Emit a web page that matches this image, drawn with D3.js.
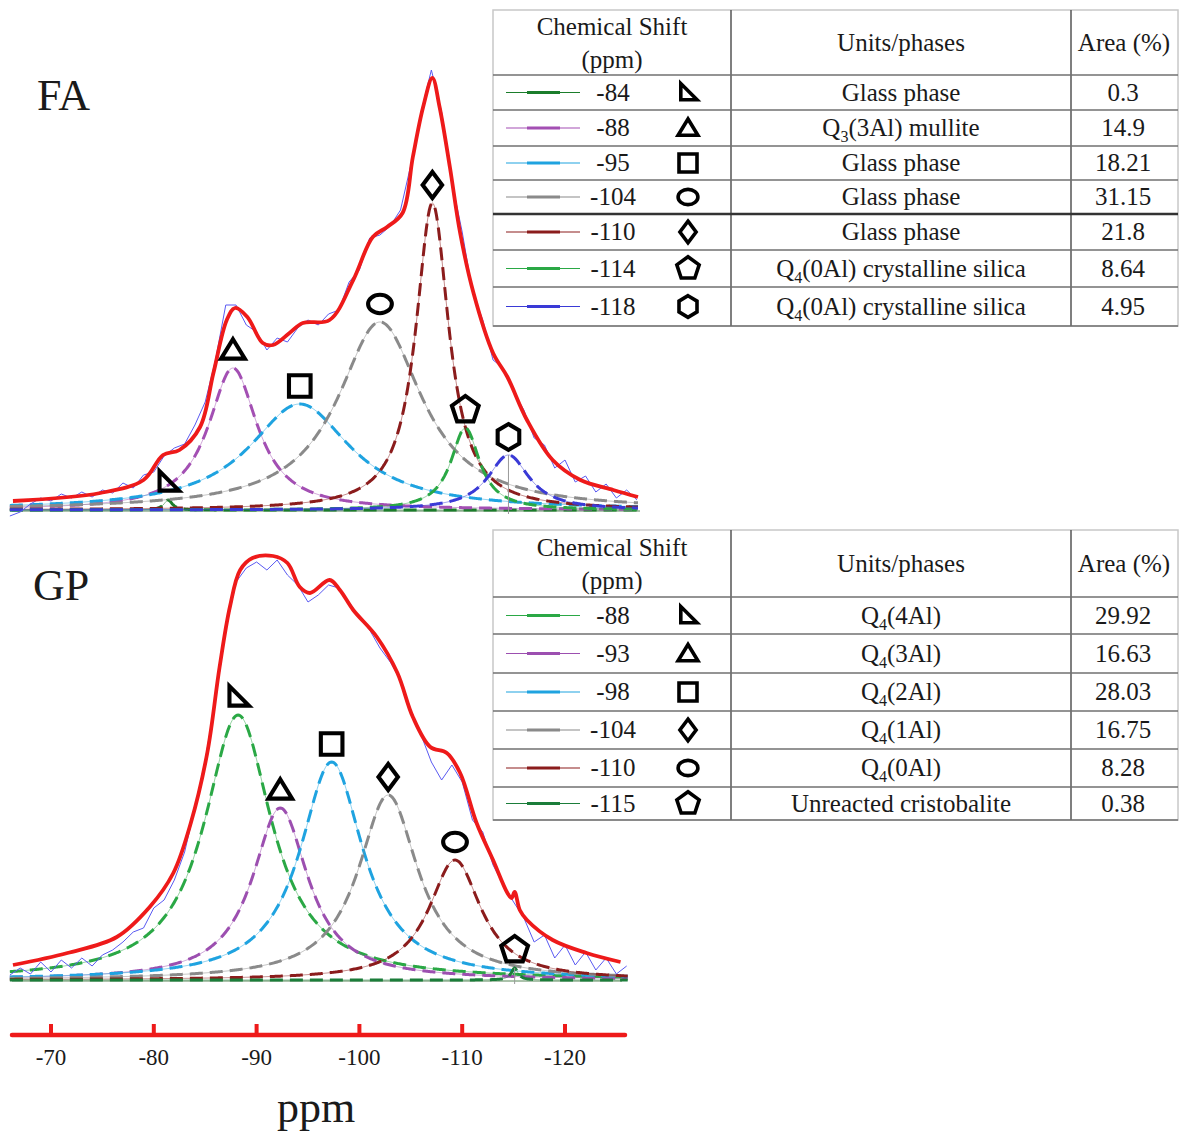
<!DOCTYPE html>
<html>
<head>
<meta charset="utf-8">
<script src="https://cdn.jsdelivr.net/npm/d3@7"></script>
<style>
body { margin: 0; background: #fff; }
text { font-family: "Liberation Serif", "DejaVu Serif", "Times New Roman", serif; fill: #1a1a1a; }
</style>
</head>
<body>
<div id="container"></div>
<script>
// width and height
var width = 1181;
var height = 1136;

// axis ticks (ppm)
var xTicks = [-70, -80, -90, -100, -110, -120];

// ---- FA sample ----
var faShift  = [-84, -88, -95, -104, -110, -114, -118];
var faSymbol = ["rtri", "tri", "square", "circle", "diamond", "pentagon", "hexagon"];
var faUnits  = ["Glass phase", "Q_3(3Al) mullite", "Glass phase", "Glass phase", "Glass phase",
                "Q_4(0Al) crystalline silica", "Q_4(0Al) crystalline silica"];
var faArea   = ["0.3", "14.9", "18.21", "31.15", "21.8", "8.64", "4.95"];
var faColor  = ["#1b7d2b", "#a34fb3", "#1fa3e0", "#8a8a8a", "#8b1c1c", "#2aa845", "#3a3ad6"];
// fitted components: peak position as plotted (ppm), height (a.u.), FWHM (ppm)
var faCenter = [-81.4, -87.7, -94.2, -102.0, -107.1, -110.3, -114.5];
var faHeight = [10, 142, 106, 188, 307, 82, 55];
var faWidth  = [1.0, 5.8, 12, 10, 3.9, 3.4, 4.9];
// total fit (red)
var faFitPpm = [-66.3, -74.8, -79.0, -80.9, -82.5, -84.5, -85.8, -87.1, -87.9, -89.1, -90.6, -91.6,
                -93.2, -94.5, -97.1, -99.4, -101.3, -102.7, -104.2, -105.2, -106.2, -107.1, -107.8,
                -108.8, -109.8, -111.1, -113.0, -114.4, -116.3, -118.8, -121.5, -124.7, -127.1];
var faFitInt = [9, 17, 30, 55, 60, 83, 137, 190, 202, 193, 167, 165,
                177, 187, 190, 230, 273, 283, 297, 353, 403, 432, 403,
                343, 277, 217, 157, 133, 90, 50, 30, 20, 13];
// experimental spectrum (blue), one value per ppm from -66 to -127
var faExp = [-6, -2, 6, 12, 9, 16, 12, 18, 13, 20, 17, 27, 22, 35, 38, 54, 62, 66, 85, 108,
             150, 205, 205, 185, 178, 160, 172, 168, 182, 190, 185, 196, 200, 228, 240, 272,
             275, 284, 300, 345, 398, 440, 398, 328, 278, 218, 190, 150, 142, 118, 100, 72,
             65, 42, 50, 28, 34, 18, 26, 12, 20, 10];

// ---- GP sample ----
var gpShift  = [-88, -93, -98, -104, -110, -115];
var gpSymbol = ["rtri", "tri", "square", "diamond", "circle", "pentagon"];
var gpUnits  = ["Q_4(4Al)", "Q_4(3Al)", "Q_4(2Al)", "Q_4(1Al)", "Q_4(0Al)", "Unreacted cristobalite"];
var gpArea   = ["29.92", "16.63", "28.03", "16.75", "8.28", "0.38"];
var gpColor  = ["#2aa845", "#9c4fb0", "#1fa3e0", "#8a8a8a", "#8b1c1c", "#1b7d3a"];
var gpCenter = [-88.2, -92.3, -97.3, -102.8, -109.3, -115.1];
var gpHeight = [265, 172, 218, 185, 120, 12];
var gpWidth  = [8.0, 6.6, 7.5, 7.1, 6.2, 0.8];
var gpFitPpm = [-66.3, -71.6, -76.4, -79.6, -81.9, -83.6, -85.2, -86.4, -87.4, -88.4, -89.6, -91.6,
                -93.0, -94.2, -95.2, -97.1, -98.1, -99.4, -101.7, -103.7, -105.2, -106.9, -108.5,
                -109.8, -111.4, -113.0, -114.4, -114.8, -115.1, -115.6, -116.3, -118.8, -122.1, -125.4];
var gpFitInt = [15, 27, 43, 73, 107, 157, 227, 313, 373, 410, 422, 424,
                417, 393, 387, 400, 390, 370, 343, 307, 263, 233, 227,
                207, 157, 120, 87, 82, 88, 70, 60, 40, 27, 18];
var gpExp = [5, 12, 6, 18, 8, 20, 12, 22, 14, 25, 30, 38, 48, 52, 72, 80, 100, 128, 172, 220,
             280, 350, 398, 412, 418, 410, 420, 405, 395, 378, 385, 395, 392, 378, 362, 350,
             332, 318, 300, 270, 245, 218, 200, 215, 198, 160, 148, 115, 95, 78, 62, 38,
             45, 22, 35, 15, 28, 10, 22, 6, 14];

var svg = d3.select("#container")
            .append("svg")
            .attr("width", width)
            .attr("height", height);

// shared ppm scale
var x = d3.scaleLinear().domain([-70, -120]).range([51, 565]);

var symbolPaths = {
  rtri: "M-8,-10L-8,8L10,8Z",
  tri: "M0,-10L11,8L-11,8Z",
  square: "M-10,-10H10V10H-10Z",
  circle: "M-11,0A11,8.5 0 1,0 11,0A11,8.5 0 1,0 -11,0Z",
  diamond: "M0,-12L9,0L0,12L-9,0Z",
  pentagon: "M0,-13L12.4,-4L7.6,10.5L-7.6,10.5L-12.4,-4Z",
  hexagon: "M0,-12L10,-6L10,6L0,12L-10,6L-10,-6Z"
};

function lorentz(c, h, w) {
  return function(p) { var t = (p - c) / (w / 2); return h / (1 + t * t); };
}

function drawPanel(p) {
  var y = d3.scaleLinear().domain([0, 100]).range([p.base, p.base - 100]);
  var g = svg.append("g");

  // baseline
  g.append("line")
   .attr("x1", 12).attr("x2", p.xEnd)
   .attr("y1", y(0) + 1).attr("y2", y(0) + 1)
   .attr("stroke", "#8fae8f").attr("stroke-width", 1.5);

  var grid = d3.range(-66, p.ppmEnd, -0.1);
  var line = d3.line().x(function(d) { return x(d[0]); }).y(function(d) { return y(d[1]); });

  p.center.forEach(function(c, i) {
    var f = lorentz(c, p.height[i], p.width[i]);
    var pts = grid.map(function(q) { return [q, f(q)]; });
    g.append("path").attr("d", line(pts))
     .attr("fill", "none").attr("stroke", p.color[i])
     .attr("stroke-opacity", 0.5).attr("stroke-width", 1);
    g.append("path").attr("d", line(pts))
     .attr("fill", "none").attr("stroke", p.color[i])
     .attr("stroke-width", 3).attr("stroke-dasharray", "13,7");
  });

  // drop line at the small crystalline peak
  g.append("line")
   .attr("x1", x(p.center[p.drop])).attr("x2", x(p.center[p.drop]))
   .attr("y1", y(p.height[p.drop])).attr("y2", y(0) + 4)
   .attr("stroke", "#999").attr("stroke-width", 1);

  // experimental
  var expPts = p.exp.map(function(v, i) { return [-66 - i, v]; });
  g.append("path").attr("d", line(expPts))
   .attr("fill", "none").attr("stroke", "#5a5af2").attr("stroke-width", 1);

  // fit
  var fitPts = p.fitPpm.map(function(q, i) { return [q, p.fitInt[i]]; });
  g.append("path").attr("d", line.curve(d3.curveCatmullRom)(fitPts))
   .attr("fill", "none").attr("stroke", "#ee1a1a").attr("stroke-width", 3.8)
   .attr("stroke-linejoin", "round");
  line.curve(d3.curveLinear);

  // markers above each component peak
  p.center.forEach(function(c, i) {
    g.append("path")
     .attr("d", symbolPaths[p.symbol[i]])
     .attr("transform", "translate(" + x(c) + "," + (y(p.height[i]) - 18) + ") scale(1.08)")
     .attr("fill", "none").attr("stroke", "#000").attr("stroke-width", 3.8)
     .attr("stroke-linejoin", "miter");
  });

  g.append("text").attr("x", p.labelX).attr("y", p.labelY)
   .style("font-size", "44px").text(p.label);
}

drawPanel({ base: 510, xEnd: 640, ppmEnd: -127.2, center: faCenter, height: faHeight, width: faWidth,
            color: faColor, symbol: faSymbol, fitPpm: faFitPpm, fitInt: faFitInt, exp: faExp,
            drop: 6, label: "FA", labelX: 37, labelY: 110 });
drawPanel({ base: 980, xEnd: 622, ppmEnd: -126.2, center: gpCenter, height: gpHeight, width: gpWidth,
            color: gpColor, symbol: gpSymbol, fitPpm: gpFitPpm, fitInt: gpFitInt, exp: gpExp,
            drop: 5, label: "GP", labelX: 33, labelY: 600 });

// bottom axis in red
var axisY = 1035;
svg.append("line").attr("x1", 12).attr("x2", 625).attr("y1", axisY).attr("y2", axisY)
   .attr("stroke", "#ee1a1a").attr("stroke-width", 4.5).attr("stroke-linecap", "round");
svg.selectAll(".tick").data(xTicks).enter().append("line")
   .attr("x1", function(d) { return x(d); }).attr("x2", function(d) { return x(d); })
   .attr("y1", axisY - 11).attr("y2", axisY)
   .attr("stroke", "#ee1a1a").attr("stroke-width", 4);
svg.selectAll(".ticklab").data(xTicks).enter().append("text")
   .attr("x", function(d) { return x(d); }).attr("y", axisY + 30)
   .attr("text-anchor", "middle").style("font-size", "23px")
   .text(function(d) { return d; });
svg.append("text").attr("x", 316).attr("y", 1122).attr("text-anchor", "middle")
   .style("font-size", "44px").text("ppm");

// tables
function unitsText(sel, s) {
  var m = s.match(/^(.*?)_(\d)(.*)$/);
  if (!m) { sel.text(s); return; }
  sel.append("tspan").text(m[1]);
  sel.append("tspan").attr("dy", 6).style("font-size", "16px").text(m[2]);
  sel.append("tspan").attr("dy", -6).text(m[3]);
}

function drawTable(t) {
  var g = svg.append("g");
  var cols = [493, 731, 1071, 1178];
  var b = t.rows;
  var top = b[0], bottom = b[b.length - 1];

  // grid
  g.append("rect").attr("x", cols[0]).attr("y", top).attr("width", cols[3] - cols[0])
   .attr("height", bottom - top).attr("fill", "none").attr("stroke", "#c8c8c8").attr("stroke-width", 1.5);
  [cols[1], cols[2]].forEach(function(cx) {
    g.append("line").attr("x1", cx).attr("x2", cx).attr("y1", top).attr("y2", bottom)
     .attr("stroke", "#555").attr("stroke-width", 1.5);
  });
  b.slice(1, -1).forEach(function(ry, i) {
    g.append("line").attr("x1", cols[0]).attr("x2", cols[3]).attr("y1", ry).attr("y2", ry)
     .attr("stroke", i === t.thick ? "#333" : "#707070")
     .attr("stroke-width", i === t.thick ? 2.6 : 1.6);
  });
  g.append("line").attr("x1", cols[0]).attr("x2", cols[3]).attr("y1", bottom).attr("y2", bottom)
   .attr("stroke", "#707070").attr("stroke-width", 1.6);

  // header
  var hm = (b[0] + b[1]) / 2;
  g.append("text").attr("x", 612).attr("y", hm - 8).attr("text-anchor", "middle")
   .style("font-size", "25px").text("Chemical Shift");
  g.append("text").attr("x", 612).attr("y", hm + 25).attr("text-anchor", "middle")
   .style("font-size", "25px").text("(ppm)");
  g.append("text").attr("x", 901).attr("y", hm + 8).attr("text-anchor", "middle")
   .style("font-size", "25px").text("Units/phases");
  g.append("text").attr("x", 1124).attr("y", hm + 8).attr("text-anchor", "middle")
   .style("font-size", "25px").text("Area (%)");

  t.shift.forEach(function(s, i) {
    var cy = (b[i + 1] + b[i + 2]) / 2;
    g.append("line").attr("x1", 506).attr("x2", 580).attr("y1", cy).attr("y2", cy)
     .attr("stroke", t.color[i]).attr("stroke-width", 1.2);
    g.append("line").attr("x1", 527).attr("x2", 560).attr("y1", cy).attr("y2", cy)
     .attr("stroke", t.color[i]).attr("stroke-width", 3.2);
    g.append("text").attr("x", 613).attr("y", cy + 8).attr("text-anchor", "middle")
     .style("font-size", "25px").text(s);
    g.append("path").attr("d", symbolPaths[t.symbol[i]])
     .attr("transform", "translate(688," + cy + ") scale(0.9)")
     .attr("fill", "none").attr("stroke", "#000").attr("stroke-width", 4);
    unitsText(g.append("text").attr("x", 901).attr("y", cy + 8).attr("text-anchor", "middle")
     .style("font-size", "25px"), t.units[i]);
    g.append("text").attr("x", 1123).attr("y", cy + 8).attr("text-anchor", "middle")
     .style("font-size", "25px").text(t.area[i]);
  });
}

drawTable({ rows: [10, 75, 110, 146, 180, 214, 250, 287, 326], thick: 4,
            shift: faShift, symbol: faSymbol, units: faUnits, area: faArea, color: faColor });
drawTable({ rows: [530, 597, 634, 673, 711, 749, 787, 820], thick: -1,
            shift: gpShift, symbol: gpSymbol, units: gpUnits, area: gpArea, color: gpColor });
</script>
</body>
</html>
